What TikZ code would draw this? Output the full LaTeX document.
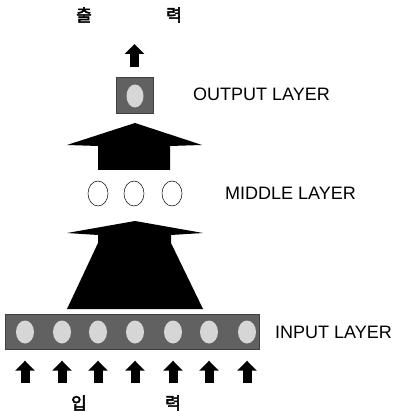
\documentclass[tikz,border=0pt]{standalone}
\usepackage{fontspec}
\setmainfont{Liberation Sans}
\newfontfamily\kr[AutoFakeBold=3]{Noto Sans CJK KR}
\usetikzlibrary{arrows.meta,shapes.geometric}
\begin{document}
\begin{tikzpicture}[x=1pt,y=-1pt,
  lab/.style={anchor=west,inner sep=0pt,font=\fontsize{18}{20}\selectfont},
  krlab/.style={inner sep=0pt,font=\kr\bfseries\fontsize{17}{19}\selectfont},
  layerbox/.style={fill=black!62,draw=black!75,line width=0.4pt,inner sep=0pt},
  unitin/.style={ellipse,fill=black!16,draw=none,minimum width=18pt,minimum height=23pt,inner sep=0pt},
  unitmid/.style={ellipse,fill=white,draw=black,line width=0.5pt,minimum width=20pt,minimum height=25pt,inner sep=0pt},
  smallarrow/.style={line width=9pt,-{Triangle[width=19pt,length=10pt]}},
  bigarrow/.style={fill=black,draw=none}]
\useasboundingbox (0,0) rectangle (395,411);

% Input layer
\node[layerbox,minimum width=254pt,minimum height=35pt] (inbar) at (132,331.5) {};
\foreach \i/\x in {1/25,2/62,3/98,4/135,5/173,6/209,7/247}{
  \node[unitin] (i\i) at (\x,332) {};
  \coordinate (s\i) at (\x,383);
  \draw[smallarrow,shorten >=17pt] (s\i) -- (i\i);
}
\node[lab] (inlab) at (275,332) {INPUT LAYER};
\node[krlab] (ip) at (79,403) {입};
\node[krlab] (ryeok1) at (173,403) {력};

% Lower big arrow
\fill[bigarrow] (135,221) -- (203,233) -- (171,235) -- (171,243) -- (203,309) -- (67,309) -- (98,243) -- (98,235) -- (67,233) -- cycle;

% Middle layer
\node[unitmid] (m1) at (98,193.5) {};
\node[unitmid] (m2) at (134,193.5) {};
\node[unitmid] (m3) at (172,193.5) {};
\node[lab] (midlab) at (225,193) {MIDDLE LAYER};

% Upper big arrow
\fill[bigarrow] (135,123) -- (202,145) -- (170,146) -- (170,170) -- (98,170) -- (98,146) -- (67,145) -- cycle;

% Output layer
\node[layerbox,minimum width=37pt,minimum height=36pt] (outbox) at (134.5,95) {};
\node[unitin,minimum width=17pt,minimum height=23pt] (o1) at (135,96) {};
\node[lab] (outlab) at (193,94) {OUTPUT LAYER};
\coordinate (otip) at (134.5,44);
\draw[smallarrow,shorten <=10pt] (outbox) -- (otip);
\node[krlab] (chul) at (84,15) {출};
\node[krlab] (ryeok2) at (174,15) {력};
\end{tikzpicture}
\end{document}
